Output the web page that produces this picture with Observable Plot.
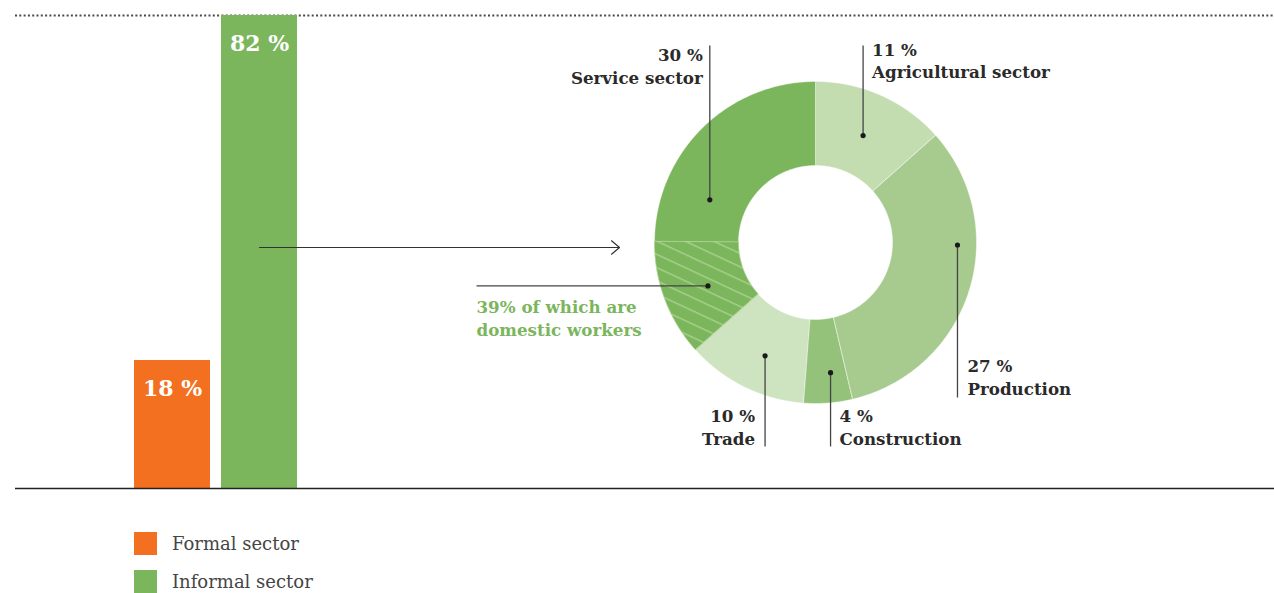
<!DOCTYPE html>
<html><head><meta charset="utf-8">
<script src="https://cdn.jsdelivr.net/npm/d3@7"></script>
<script src="https://cdn.jsdelivr.net/npm/@observablehq/plot@0.6"></script>
<style>
body{margin:0;background:#fff;}
#wrap{position:relative;width:1274px;height:593px;overflow:hidden;background:#fff;}
#wrap svg{position:absolute;left:0;top:0;}
.legend{position:absolute;left:134px;font-family:"DejaVu Serif",serif;font-size:18px;color:#454545;display:flex;align-items:center;height:23px;}
.sw{width:23px;height:23px;margin-right:15px;display:inline-block;}
</style></head><body><div id="wrap"></div>
<script>
// ---- data ----
const barCategories = ["Formal sector", "Informal sector"];
const barValues = [18, 82];
const sectorNames = ["Agricultural sector", "Production", "Construction", "Trade", "Service sector"];
const sectorShares = [11, 27, 4, 10, 30];
const domesticLabel = ["39% of which are", "domestic workers"];
const domesticPart = 9.6; // part of the service arc drawn hatched (same units)

// ---- styles ----
const barColors = {"Formal sector": "#f37021", "Informal sector": "#7bb55c"};
const sectorColors = {"Agricultural sector": "#c3dcb0", "Production": "#a7cb8e", "Construction": "#94c27a", "Trade": "#cee4c1", "Service sector": "#7bb55c"};
const hatchLine = "#a9d28c";
const serif = "DejaVu Serif";
const labelSize = 16.7;

const wrap = document.getElementById("wrap");

// ---- bars ----
const barData = barCategories.map((c, i) => ({cat: c, value: barValues[i]}));
const barPlot = Plot.plot({
  width: 1274, height: 500, marginLeft: 15, marginRight: 0, marginTop: 15, marginBottom: 12,
  style: {background: "transparent", overflow: "visible"},
  x: {type: "band", domain: barCategories, range: [134, 297], paddingInner: 11 / 87, paddingOuter: 0, round: false, axis: null},
  y: {type: "pow", exponent: 0.862, domain: [0, d3.max(barValues)], range: [488, 15], axis: null},
  color: {type: "identity"},
  marks: [
    Plot.ruleY([d3.max(barValues)], {stroke: "#4a4a4a", strokeWidth: 2, strokeDasharray: "2,2.3"}),
    Plot.barY(barData, {x: "cat", y: "value", fill: d => barColors[d.cat]}),
    Plot.ruleY([0], {stroke: "#222", strokeWidth: 1.3}),
    Plot.text(barData, {x: "cat", y: "value", text: d => d.value + " %", dy: 28, fill: "white", fontWeight: "bold", fontSize: 22, fontFamily: serif})
  ]
});
wrap.appendChild(barPlot);

// ---- donut ----
const cx = 815, cy = 242, R = 161, R0 = 77;
const total = d3.sum(sectorShares);
const ang = v => v / total * 2 * Math.PI;
const px = (a, r) => cx + r * Math.sin(a);
const py = (a, r) => cy - r * Math.cos(a);
function ring(key, fill, v0, v1) {
  const a0 = ang(v0), a1 = ang(v1);
  const n = Math.max(2, Math.ceil((a1 - a0) / 0.01));
  const pts = [];
  for (let i = 0; i <= n; i++) { const a = a0 + (a1 - a0) * i / n; pts.push({key, fill, x: px(a, R), y: py(a, R)}); }
  for (let i = n; i >= 0; i--) { const a = a0 + (a1 - a0) * i / n; pts.push({key, fill, x: px(a, R0), y: py(a, R0)}); }
  return pts;
}
let cum = 0;
const sectorPts = [];
let hatchPts = [];
sectorNames.forEach((name, i) => {
  const v0 = cum, v1 = cum + sectorShares[i];
  if (name === "Service sector") {
    hatchPts = ring("domestic", "url(#hatch)", v0, v0 + domesticPart);
    sectorPts.push(...ring(name, sectorColors[name], v0 + domesticPart, v1));
  } else {
    sectorPts.push(...ring(name, sectorColors[name], v0, v1));
  }
  cum = v1;
});

// annotation layout
const deg = Math.PI / 180;
const layout = {
  "Agricultural sector": {angle: 24, radius: 117, end: 45, anchor: "start", dx: 9, base: [55, 77]},
  "Production": {angle: 91, radius: 142, end: 397, anchor: "start", dx: 10, base: [371, 394]},
  "Construction": {angle: 173.4, radius: 131, end: 446, anchor: "start", dx: 9, base: [421, 444]},
  "Trade": {angle: 204, radius: 124, end: 446, anchor: "end", dx: -10, base: [421, 444]},
  "Service sector": {angle: 292, radius: 114, end: 45, anchor: "end", dx: -7, base: [60, 83]}
};
const leaders = sectorNames.map((name, i) => {
  const L = layout[name];
  const x = px(L.angle * deg, L.radius), y = py(L.angle * deg, L.radius);
  return {name, share: sectorShares[i], x1: x, y1: y, x2: x, y2: L.end, L};
});
const domAngle = 248 * deg, domRadius = 116;
const domDot = {x1: px(domAngle, domRadius), y1: py(domAngle, domRadius), x2: 476, y2: py(domAngle, domRadius)};
leaders.push(domDot);

const textRows = [];
sectorNames.forEach((name, i) => {
  const L = layout[name];
  const x = px(L.angle * deg, L.radius) + L.dx;
  textRows.push({t: sectorShares[i] + " %", x, y: L.base[0] - 5, anchor: L.anchor});
  textRows.push({t: name, x, y: L.base[1] - 5, anchor: L.anchor});
});
const domRows = domesticLabel.map((t, i) => ({t, x: 476, y: [312, 335][i] - 5}));

const xs = barPlot.scale("x");
const arrowStart = xs.apply("Informal sector") + xs.bandwidth / 2;

const donut = Plot.plot({
  width: 1274, height: 500, margin: 0,
  style: {background: "transparent", overflow: "visible"},
  x: {type: "identity", axis: null}, y: {type: "identity", axis: null}, color: {type: "identity"},
  marks: [
    Plot.line(sectorPts, {x: "x", y: "y", z: "key", fill: "fill", stroke: "white", strokeWidth: 0.6, strokeOpacity: 0.7, curve: "linear-closed"}),
    Plot.line(hatchPts, {x: "x", y: "y", fill: "url(#hatch)", stroke: hatchLine, strokeWidth: 0.8, curve: "linear-closed"}),
    Plot.arrow([{x1: arrowStart, y1: 247, x2: 619, y2: 247}], {x1: "x1", y1: "y1", x2: "x2", y2: "y2", stroke: "#333", strokeWidth: 1.2, headLength: 13, headAngle: 80}),
    Plot.link(leaders, {x1: "x1", y1: "y1", x2: "x2", y2: "y2", stroke: "#444", strokeWidth: 1.3}),
    Plot.dot(leaders, {x: "x1", y: "y1", r: 2.6, fill: "#1a1a1a"}),
    Plot.text(textRows.filter(d => d.anchor === "start"), {x: "x", y: "y", text: "t", textAnchor: "start", fontFamily: serif, fontWeight: "bold", fontSize: labelSize, fill: "#2a2a2a"}),
    Plot.text(textRows.filter(d => d.anchor === "end"), {x: "x", y: "y", text: "t", textAnchor: "end", fontFamily: serif, fontWeight: "bold", fontSize: labelSize, fill: "#2a2a2a"}),
    Plot.text(domRows, {x: "x", y: "y", text: "t", textAnchor: "start", fontFamily: serif, fontWeight: "bold", fontSize: labelSize, fill: "#7bb55c"})
  ]
});
const defs = d3.select(donut).insert("defs", ":first-child");
const pat = defs.append("pattern").attr("id", "hatch").attr("patternUnits", "userSpaceOnUse")
  .attr("width", 12).attr("height", 12).attr("patternTransform", "rotate(25)");
pat.append("rect").attr("width", 12).attr("height", 12).attr("fill", sectorColors["Service sector"]);
pat.append("line").attr("x1", 0).attr("y1", 0.7).attr("x2", 12).attr("y2", 0.7).attr("stroke", hatchLine).attr("stroke-width", 1.4);
wrap.appendChild(donut);

// ---- legend ----
barCategories.forEach((c, i) => {
  const div = document.createElement("div");
  div.className = "legend";
  div.style.top = (532 + i * 38) + "px";
  div.innerHTML = `<span class="sw" style="background:${barColors[c]}"></span><span>${c}</span>`;
  wrap.appendChild(div);
});
</script>
</body></html>
